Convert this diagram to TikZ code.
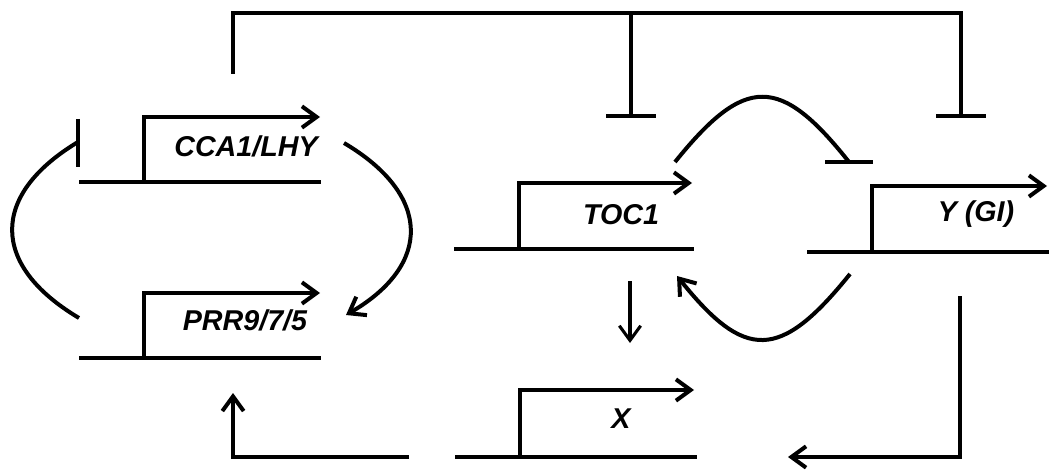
\documentclass[tikz,border=0pt]{standalone}
\usepackage{fontspec}
\setmainfont{Liberation Sans}
\usetikzlibrary{arrows.meta}

\begin{document}
\begin{tikzpicture}[
  x=0.75pt, y=-0.75pt,
  line/.style={line width=3pt},
  act/.style={line, -{Straight Barb[length=11pt, width=16pt]}},
  thinact/.style={act, line width=2.3pt},
  bar/.style={line, -{Bar[width=37pt]}},
  genename/.style={font=\fontsize{21.5}{24}\selectfont\bfseries\itshape, inner sep=0pt}
]
\useasboundingbox (0,0) rectangle (1052,470);

% gene names
\node[genename] (cca) at (246,146) {CCA1/LHY};
\node[genename] (prr) at (245,320) {PRR9/7/5};
\node[genename] (toc) at (621,215) {TOC1};
\node[genename] (ygi) at (976,214) {Y (GI)};
\node[genename] (xg) at (621,419) {X};

% genes: baseline and promoter arrow
\draw[line] (79,182) -- (321,182);
\draw[act] (144,182) |- (320,117);
\draw[line] (79,358) -- (321,358);
\draw[act] (144,358) |- (320,293);
\draw[line] (454,249) -- (694,249);
\draw[act] (519,249) |- (692,183);
\draw[line] (807,252) -- (1049,252);
\draw[act] (872,252) |- (1047,186);
\draw[line] (455,457) -- (697,457);
\draw[act] (520,457) |- (694,390);

% connector ends
\coordinate (ccaOut) at (344,143);
\coordinate (prrIn) at (346,315);
\coordinate (prrOut) at (79,318);
\coordinate (ccaIn) at (78,142);
\coordinate (ccaUp) at (233,74);
\coordinate (topR) at (961,13);
\coordinate (tocBar) at (631,118);
\coordinate (ygiBar) at (961,118);
\coordinate (tocOut) at (675,162);
\coordinate (ygiIn) at (849,162);
\coordinate (ygiOut) at (850,274);
\coordinate (tocIn) at (677,276);
\coordinate (tocDown) at (630,281);
\coordinate (xIn) at (630,343);
\coordinate (xOut) at (409,457);
\coordinate (prrUp) at (233,393);
\coordinate (ygiDown) at (960,296);
\coordinate (xBack) at (788,457);

% CCA1/LHY <-> PRR9/7/5 loop
\draw[act] (ccaOut) .. controls (432,195) and (432,265) .. (prrIn);
\draw[line] (prrOut) .. controls (-10,265) and (-10,195) .. (ccaIn);
\draw[line] (78,119) -- (78,167);

% CCA1/LHY represses TOC1 and Y
\draw[bar] (ccaUp) |- (topR) -- (ygiBar);
\draw[bar] (tocBar |- topR) -- (tocBar);

% TOC1 <-> Y (GI)
\draw[line] (tocOut) .. controls (745,75) and (780,75) .. (ygiIn);
\draw[line] (825,162) -- (873,162);
\draw[act] (ygiOut) .. controls (780,361) and (745,361) .. (tocIn);

% outputs via X
\draw[thinact] (tocDown) -- (xIn);
\draw[act] (xOut) -| (prrUp);
\draw[act] (ygiDown) |- (xBack);
\end{tikzpicture}
\end{document}
